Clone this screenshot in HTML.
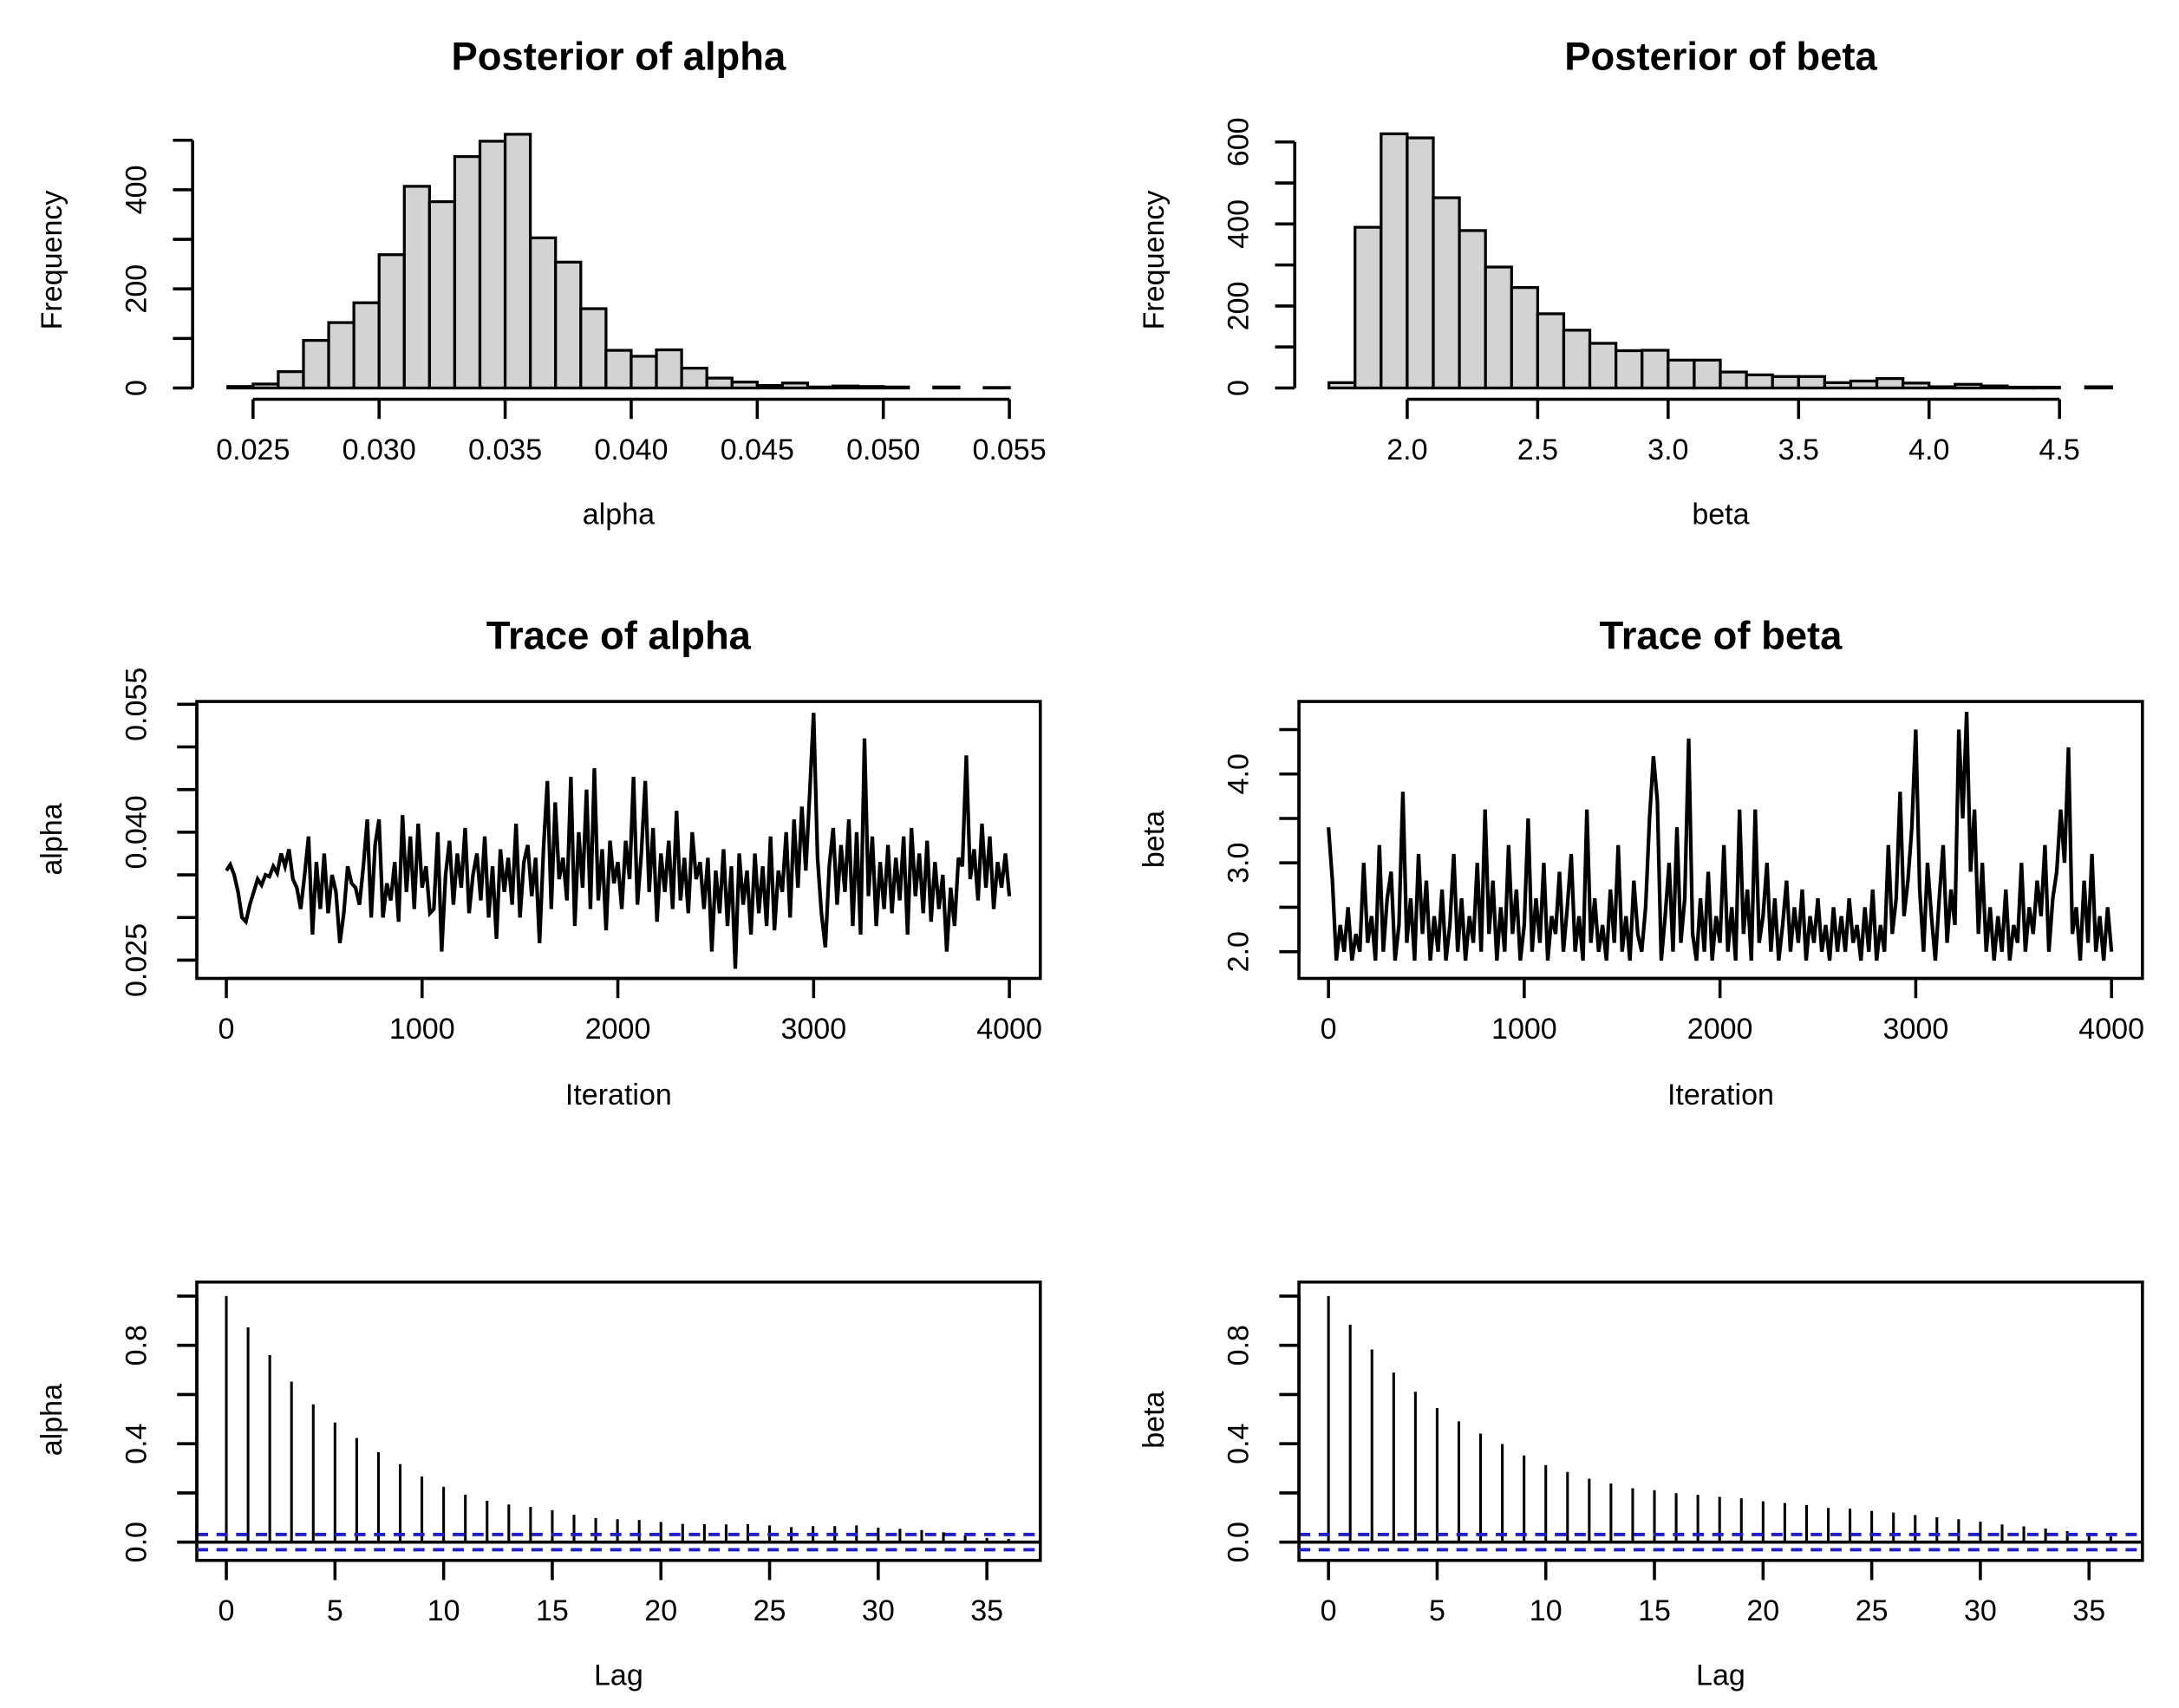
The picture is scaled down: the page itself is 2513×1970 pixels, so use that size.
<!DOCTYPE html>
<html><head><meta charset="utf-8"><style>
html,body{margin:0;padding:0;background:#fff;}
svg{display:block;}
text{font-family:"Liberation Sans",Arial,sans-serif;fill:#000;}
</style></head><body>
<svg id="fig" xmlns="http://www.w3.org/2000/svg" width="2513" height="1970" viewBox="0 0 1550 1215" preserveAspectRatio="none"></svg>
<script>
// ---------- data ----------
const alphaBinStarts = [0.024,0.025,0.026,0.027,0.028,0.029,0.030,0.031,0.032,0.033,0.034,0.035,0.036,0.037,0.038,0.039,0.040,0.041,0.042,0.043,0.044,0.045,0.046,0.047,0.048,0.049,0.050,0.051,0.052,0.053,0.054];
const alphaCounts = [3,8,33,96,132,172,269,407,376,467,498,512,303,254,160,76,64,77,40,20,12,5,10,2,4,3,2,0,2,0,1];
const alphaHistXTicks = [0.025,0.030,0.035,0.040,0.045,0.050,0.055];
const alphaHistXLabels = ["0.025","0.030","0.035","0.040","0.045","0.050","0.055"];
const alphaHistYTicks = [0,100,200,300,400,500];
const alphaHistYLabels = ["0","","200","","400",""];

const betaBinStarts = [1.7,1.8,1.9,2.0,2.1,2.2,2.3,2.4,2.5,2.6,2.7,2.8,2.9,3.0,3.1,3.2,3.3,3.4,3.5,3.6,3.7,3.8,3.9,4.0,4.1,4.2,4.3,4.4,4.5,4.6];
const betaCounts = [13,392,620,610,464,384,295,245,181,141,109,91,92,68,68,39,32,28,28,13,17,23,12,3,9,5,2,2,0,3];
const betaHistXTicks = [2.0,2.5,3.0,3.5,4.0,4.5];
const betaHistXLabels = ["2.0","2.5","3.0","3.5","4.0","4.5"];
const betaHistYTicks = [0,100,200,300,400,500,600];
const betaHistYLabels = ["0","","200","","400","","600"];

// trace samples, every 20 iterations (alpha in thousandths)
const traceStep = 20;
const alphaTraceMilli = [35.5,36.2,35.0,33.0,30.0,29.5,31.5,33.0,34.5,33.8,35.0,
34.8,36.0,35.2,37.5,36.0,38.0,34.5,33.5,31.0,35.0,
39.5,28.0,36.5,31.0,37.5,30.5,35.0,33.0,27.0,30.5,
36.0,34.0,33.5,31.5,36.0,41.5,30.0,38.5,41.5,30.0,
34.0,32.0,36.5,29.5,42.0,33.0,39.5,31.0,41.0,33.5,
36.0,30.5,31.0,40.0,26.0,35.0,39.0,31.5,37.5,33.5,
40.5,30.5,35.0,37.5,32.0,39.5,30.0,36.0,27.5,38.0,
33.0,37.0,31.5,41.0,30.0,36.5,38.5,32.5,37.0,27.0,
38.0,46.0,31.0,43.5,34.5,37.0,32.0,46.5,29.0,40.0,
33.5,45.0,31.0,47.5,32.0,38.0,28.5,39.0,34.0,36.5,
31.0,39.0,34.5,46.5,31.5,37.5,46.0,33.0,40.5,29.5,
37.5,33.0,39.0,31.0,42.5,32.0,37.0,30.5,40.0,34.5,
36.5,31.0,37.0,26.0,35.5,30.5,38.0,29.0,36.0,24.0,
37.5,31.5,35.5,28.0,37.5,30.5,36.0,29.0,39.5,28.5,
35.5,33.0,40.0,30.0,41.5,33.5,43.0,35.5,44.5,54.0,
37.0,30.5,26.5,36.0,40.5,31.5,38.5,33.0,41.5,29.0,
40.0,28.0,51.0,32.5,39.5,29.0,36.5,31.0,38.5,30.5,
37.0,32.0,39.5,28.0,40.5,32.5,37.5,30.5,39.0,29.5,
36.5,31.0,35.0,26.0,33.5,29.0,37.0,36.0,49.0,34.5,
38.0,32.0,41.0,33.5,39.5,31.0,36.5,33.5,37.5,32.5];
const betaTrace = [3.4,2.8,1.9,2.3,2.0,2.5,1.9,2.2,2.0,3.0,2.1,
2.4,1.9,3.2,2.0,2.6,2.9,1.9,2.3,3.8,2.1,
2.6,1.9,3.1,2.2,2.8,1.9,2.4,2.0,2.7,1.9,
2.3,3.1,2.0,2.6,1.9,2.4,2.1,3.0,2.0,3.6,
2.2,2.8,1.9,2.5,2.0,3.2,2.2,2.7,1.9,2.3,
3.5,2.0,2.6,2.1,3.0,1.9,2.4,2.2,2.9,2.0,
2.5,3.1,2.0,2.4,1.9,3.6,2.1,2.6,2.0,2.3,
1.9,2.7,2.1,3.2,2.0,2.4,1.9,2.8,2.2,2.0,
2.5,3.5,4.2,3.7,1.9,2.4,3.0,2.0,3.4,2.1,
2.6,4.4,2.2,1.9,2.6,2.0,2.9,1.9,2.4,2.1,
3.2,2.0,2.5,1.9,3.6,2.2,2.7,1.9,3.6,2.1,
2.4,3.0,2.0,2.6,1.9,2.3,2.8,2.0,2.5,2.1,
2.7,1.9,2.4,2.1,2.6,2.0,2.3,1.9,2.5,2.0,
2.4,2.0,2.6,2.1,2.3,1.9,2.5,2.0,2.7,1.9,
2.3,2.0,3.2,2.2,2.6,3.8,2.4,2.8,3.4,4.5,
2.7,2.0,3.0,2.4,1.9,2.6,3.2,2.1,2.7,2.3,
4.5,3.5,4.7,2.9,3.6,2.2,3.0,2.0,2.5,1.9,
2.4,2.0,2.7,1.9,2.3,2.1,3.0,2.0,2.5,2.2,
2.8,2.4,3.2,2.0,2.6,2.9,3.6,3.0,4.3,2.2,
2.5,1.9,2.8,2.1,3.1,2.0,2.4,1.9,2.5,2.0];
const traceXTicks = [0,1000,2000,3000,4000];
const traceXLabels = ["0","1000","2000","3000","4000"];
const alphaTraceYTicks = [0.025,0.030,0.035,0.040,0.045,0.050,0.055];
const alphaTraceYLabels = ["0.025","","","0.040","","","0.055"];
const betaTraceYTicks = [2.0,2.5,3.0,3.5,4.0,4.5];
const betaTraceYLabels = ["2.0","","3.0","","4.0",""];

const alphaAcf = [1.0,0.873,0.76,0.652,0.56,0.486,0.423,0.366,0.317,0.267,0.225,0.193,0.168,0.153,0.143,0.130,0.111,0.098,0.093,0.090,0.082,0.074,0.073,0.072,0.073,0.068,0.061,0.065,0.065,0.068,0.059,0.054,0.049,0.040,0.027,0.017,0.013];
const betaAcf = [1.0,0.884,0.783,0.689,0.611,0.545,0.491,0.441,0.399,0.352,0.313,0.285,0.258,0.238,0.219,0.211,0.199,0.192,0.184,0.178,0.166,0.159,0.151,0.139,0.136,0.127,0.120,0.110,0.101,0.093,0.083,0.072,0.064,0.055,0.045,0.032,0.023];
const acfBound = 0.031;
const acfXTicks = [0,5,10,15,20,25,30,35];
const acfXLabels = ["0","5","10","15","20","25","30","35"];
const acfYTicks = [0,0.2,0.4,0.6,0.8,1.0];
const acfYLabels = ["0.0","","0.4","","0.8",""];

// ---------- drawing ----------
const NS = "http://www.w3.org/2000/svg";
const svg = document.getElementById("fig");
function mk(tag, attrs, parent){
  const e = document.createElementNS(NS, tag);
  for (const k in attrs) e.setAttribute(k, attrs[k]);
  (parent||svg).appendChild(e);
  return e;
}
function lin(d0,d1,r0,r1){ return v => r0 + (v-d0)*(r1-r0)/(d1-d0); }
function txt(s, x, y, size, opts, parent, name){
  const t = mk("text", {x:x, y:y, "font-size":size, "text-anchor":"middle", "dominant-baseline":"central"}, parent);
  if (opts && opts.bold) t.setAttribute("font-weight","bold");
  if (opts && opts.rot) t.setAttribute("transform","rotate(-90 "+x+" "+y+")");
  t.textContent = s;
  
  
  return t;
}
const TICK = 14, LW = 2.2, FS = 21, TFS = 28;

function xAxis(g, sx, ticks, labels, y, labelY, x0, x1){
  const l = mk("line",{x1:sx(x0),x2:sx(x1),y1:y,y2:y,stroke:"#000","stroke-width":LW},g);
  
  
  ticks.forEach((t,i)=>{
    const tk = mk("line",{x1:sx(t),x2:sx(t),y1:y,y2:y+TICK,stroke:"#000","stroke-width":LW},g);
    
    
    if (labels[i]) txt(labels[i], sx(t), labelY, FS, null, g, 'x-tick-label');
  });
}
function yAxis(g, sy, ticks, labels, x, labelX, y0, y1){
  const l = mk("line",{x1:x,x2:x,y1:sy(y0),y2:sy(y1),stroke:"#000","stroke-width":LW},g);
  
  
  ticks.forEach((t,i)=>{
    const tk = mk("line",{x1:x-TICK,x2:x,y1:sy(t),y2:sy(t),stroke:"#000","stroke-width":LW},g);
    
    
    if (labels[i]) txt(labels[i], labelX, sy(t), FS, {rot:true}, g, 'y-tick-label');
  });
}
function group(name){
  const g = mk("g",{});
  
  
  return g;
}

function histogram(name, dx, title, xlab, starts, counts, bw, xd0, xd1, xr0, xr1, yd1, yr1, xt, xl, yt, yl){
  const g = group(name);
  const sx = lin(xd0, xd1, xr0+dx, xr1+dx);
  const sy = lin(0, yd1, 276, yr1);
  starts.forEach((s,i)=>{
    const r = mk("rect",{x:sx(s), y:sy(counts[i]), width:sx(s+bw)-sx(s), height:sy(0)-sy(counts[i]), fill:"#d3d3d3", stroke:"#000","stroke-width":2},g);
    
    
  });
  xAxis(g, sx, xt, xl, 284, 320, xt[0], xt[xt.length-1]);
  yAxis(g, sy, yt, yl, 137+dx, 97+dx, yt[0], yt[yt.length-1]);
  txt(title, 440+dx, 40, TFS, {bold:true}, g, 'plot-title');
  txt(xlab, 440+dx, 366, FS, null, g, 'x-axis-title');
  txt("Frequency", 37+dx, 185, FS, {rot:true}, g, 'y-axis-title');
}

function frame(g, x0, y0, x1, y1){
  const r = mk("rect",{x:x0,y:y0,width:x1-x0,height:y1-y0,fill:"none",stroke:"#000","stroke-width":LW},g);
  
  
}

function trace(name, dx, title, ylab, values, scale, yd0, yd1, yr0, yr1, yt, yl){
  const g = group(name);
  const sx = lin(0, 4000, 161+dx, 718+dx);
  const sy = lin(yd0, yd1, yr0, yr1);
  frame(g, 140+dx, 499, 740+dx, 696);
  const pts = values.map((v,i)=> sx(i*traceStep).toFixed(2)+","+sy(v*scale).toFixed(2)).join(" ");
  const p = mk("polyline",{points:pts, fill:"none", stroke:"#000","stroke-width":2.6,"stroke-linejoin":"miter"},g);
  
  
  xAxis(g, sx, traceXTicks, traceXLabels, 696, 732, 0, 4000);
  yAxis(g, sy, yt, yl, 140+dx, 97+dx, yt[0], yt[yt.length-1]);
  txt(title, 440+dx, 452, TFS, {bold:true}, g, 'plot-title');
  txt("Iteration", 440+dx, 779, FS, null, g, 'x-axis-title');
  txt(ylab, 37+dx, 597, FS, {rot:true}, g, 'y-axis-title');
}

function acf(name, dx, ylab, values){
  const g = group(name);
  const sx = lin(0, 35, 161+dx, 702+dx);
  const sy = lin(0, 1, 1097, 922);
  frame(g, 140+dx, 912, 740+dx, 1110);
  values.forEach((v,i)=>{
    const l = mk("line",{x1:sx(i),x2:sx(i),y1:sy(0),y2:sy(v),stroke:"#000","stroke-width":1.9},g);
    
    
  });
  const z = mk("line",{x1:140+dx,x2:740+dx,y1:sy(0),y2:sy(0),stroke:"#000","stroke-width":2.2},g);
  
  
  [acfBound,-acfBound].forEach(b=>{
    const d = mk("line",{x1:140+dx,x2:740+dx,y1:sy(b),y2:sy(b),stroke:"#2020c8","stroke-width":2.4,"stroke-dasharray":"8,6"},g);
    
    
  });
  xAxis(g, sx, acfXTicks, acfXLabels, 1110, 1146, 0, 35);
  yAxis(g, sy, acfYTicks, acfYLabels, 140+dx, 97+dx, 0, 1);
  txt("Lag", 440+dx, 1192, FS, null, g, 'x-axis-title');
  txt(ylab, 37+dx, 1010, FS, {rot:true}, g, 'y-axis-title');
}

histogram("alpha-histogram", 0, "Posterior of alpha", "alpha", alphaBinStarts, alphaCounts, 0.001, 0.025, 0.055, 180, 718, 400, 135, alphaHistXTicks, alphaHistXLabels, alphaHistYTicks, alphaHistYLabels);
histogram("beta-histogram", 784, "Posterior of beta", "beta", betaBinStarts, betaCounts, 0.1, 2.0, 4.5, 217, 681, 600, 101, betaHistXTicks, betaHistXLabels, betaHistYTicks, betaHistYLabels);
trace("alpha-trace", 0, "Trace of alpha", "alpha", alphaTraceMilli, 0.001, 0.025, 0.055, 683, 501, alphaTraceYTicks, alphaTraceYLabels);
trace("beta-trace", 784, "Trace of beta", "beta", betaTrace, 1, 2.0, 4.5, 677, 519, betaTraceYTicks, betaTraceYLabels);
acf("alpha-autocorrelation", 0, "alpha", alphaAcf);
acf("beta-autocorrelation", 784, "beta", betaAcf);
</script>
</body></html>
